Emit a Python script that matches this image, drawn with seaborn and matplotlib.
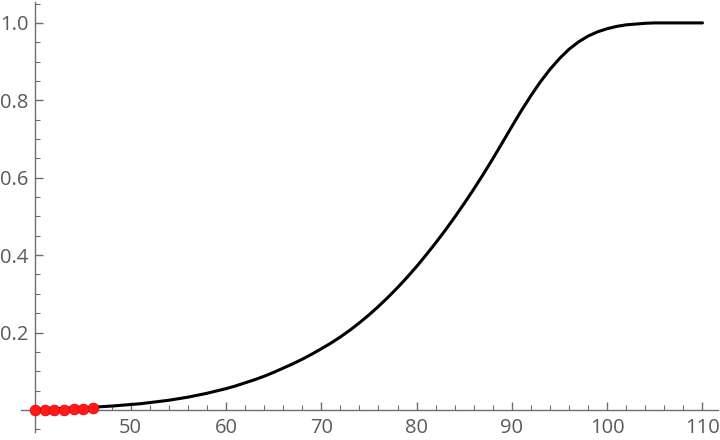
import numpy as np
import pandas as pd
import matplotlib
matplotlib.use("Agg")
import matplotlib.pyplot as plt
import seaborn as sns
from matplotlib.ticker import MultipleLocator, FixedLocator

# curve values
curve_x = [40, 42, 44, 46, 48, 50, 51, 52, 53, 54, 55, 56, 57, 58, 59, 60,
           61, 62, 63, 64, 65, 66, 67, 68, 69, 70, 71, 72, 73, 74, 75, 76,
           77, 78, 79, 80, 81, 82, 83, 84, 85, 86, 87, 88, 89, 90, 91, 92,
           93, 94, 95, 96, 97, 98, 99, 100, 101, 102, 103, 104, 105, 106,
           108, 110]
curve_y = [0.001, 0.003, 0.005, 0.007, 0.010, 0.014, 0.016, 0.019, 0.022,
           0.025, 0.029, 0.033, 0.038, 0.043, 0.049, 0.055, 0.062, 0.070,
           0.078, 0.087, 0.097, 0.108, 0.119, 0.131, 0.144, 0.158, 0.1725,
           0.1885, 0.206, 0.225, 0.2455, 0.2675, 0.291, 0.316, 0.3425,
           0.3705, 0.4005, 0.4315, 0.464, 0.498, 0.5335, 0.5705, 0.609,
           0.649, 0.6905, 0.7325, 0.7735, 0.812, 0.848, 0.880, 0.908, 0.932,
           0.951, 0.966, 0.977, 0.985, 0.991, 0.995, 0.997, 0.999, 1.000,
           1.000, 1.000, 1.000]

# red sample points
point_x = [40, 41, 42, 43, 44, 45, 46]
point_y = [0.000, 0.000, 0.001, 0.001, 0.002, 0.003, 0.004]

x_ticks = [50, 60, 70, 80, 90, 100, 110]
y_ticks = [0.2, 0.4, 0.6, 0.8, 1.0]

sns.set_style("white")
plt.rcParams["font.family"] = ["Open Sans", "DejaVu Sans"]

W, H = 720, 440
fig = plt.figure(figsize=(W / 100, H / 100), dpi=100)
# axes box in pixels: left 21, right 718, top 2, bottom 432
ax = fig.add_axes([21 / W, (H - 432) / H, (718 - 21) / W, 430 / H])

curve = pd.DataFrame({"x": curve_x, "y": curve_y})
points = pd.DataFrame({"x": point_x, "y": point_y})

sns.lineplot(data=curve, x="x", y="y", ax=ax, color="black", linewidth=2.2)
sns.scatterplot(data=points, x="x", y="y", ax=ax, color="#ff1a1a",
                s=60, edgecolor="#e00000", linewidth=0.5, zorder=5,
                clip_on=False)

ax.set_xlim(38.49, 111.63)
ax.set_ylim(-0.057, 1.054)
ax.set_xlabel("")
ax.set_ylabel("")

axis_col = "#6e6e6e"
label_col = "#5a5a5a"
for side in ["top", "right"]:
    ax.spines[side].set_visible(False)
ax.spines["left"].set_position(("data", 40))
ax.spines["bottom"].set_position(("data", 0))
for side in ["left", "bottom"]:
    ax.spines[side].set_color(axis_col)
    ax.spines[side].set_linewidth(1.0)

ax.xaxis.set_major_locator(FixedLocator(x_ticks))
ax.xaxis.set_minor_locator(MultipleLocator(2))
ax.yaxis.set_major_locator(FixedLocator(y_ticks))
ax.yaxis.set_minor_locator(MultipleLocator(0.05))
ax.set_xticklabels([str(v) for v in x_ticks])
ax.set_yticklabels([f"{v:.1f}" for v in y_ticks])

ax.tick_params(which="major", direction="in", length=6, width=1.0,
               color=axis_col, labelcolor=label_col, labelsize=14.5)
ax.tick_params(which="minor", direction="in", length=3.8, width=0.8,
               color=axis_col)
ax.tick_params(axis="y", which="both", left=True, pad=5)
ax.tick_params(axis="x", which="both", bottom=True, pad=6)
ax.set_facecolor("white")

fig.savefig("out.png", dpi=100, facecolor="white")
